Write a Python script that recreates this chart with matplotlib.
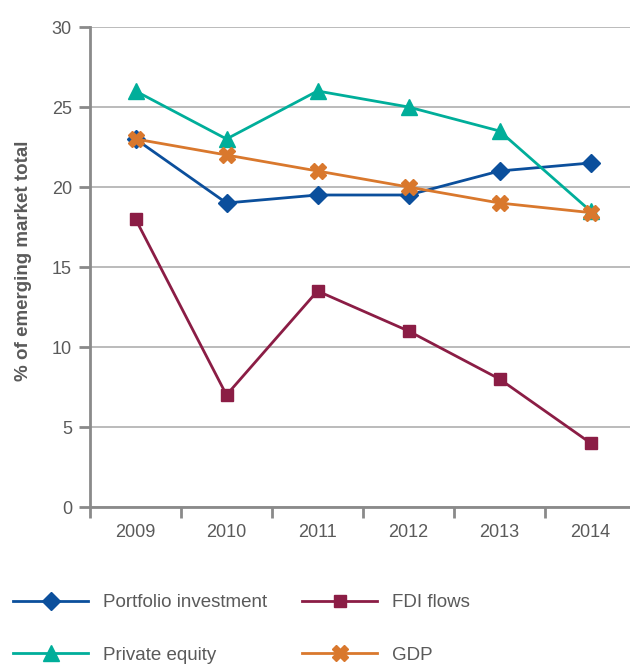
import matplotlib.pyplot as plt
from matplotlib.ticker import MultipleLocator

plt.rcParams['font.family'] = ['Liberation Sans', 'DejaVu Sans']

# Data
years = ['2009', '2010', '2011', '2012', '2013', '2014']
portfolio = [23.0, 19.0, 19.5, 19.5, 21.0, 21.5]
fdi = [18.0, 7.0, 13.5, 11.0, 8.0, 4.0]
private_equity = [26.0, 23.0, 26.0, 25.0, 23.5, 18.5]
gdp = [23.0, 22.0, 21.0, 20.0, 19.0, 18.4]

text_grey = '#5a5a5a'
axis_grey = '#8a8a8a'

fig = plt.figure(figsize=(6.3, 6.66), dpi=100)
ax = fig.add_axes([90 / 630, 1 - 507 / 666, 546 / 630, 480 / 666])

x = range(len(years))
l1, = ax.plot(x, portfolio, color='#0b4f9c', lw=2, marker='D', ms=9, label='Portfolio investment')
l2, = ax.plot(x, fdi, color='#8b1d45', lw=2, marker='s', ms=8, label='FDI flows')
l3, = ax.plot(x, private_equity, color='#00ae9a', lw=2, marker='^', ms=11, label='Private equity')
l4, = ax.plot(x, gdp, color='#d9782d', lw=2, marker='X', ms=11, label='GDP')

ax.set_ylim(0, 30)
ax.set_xlim(-0.5, len(years) - 0.5)
ax.yaxis.set_major_locator(MultipleLocator(5))
ax.grid(axis='y', color='#b5b5b5', lw=1.3)
ax.set_axisbelow(True)

# category boundaries as ticks, labels centred
ax.set_xticks([i - 0.5 for i in range(len(years) + 1)])
ax.set_xticklabels([])
ax.set_xticks(list(x), minor=True)
ax.set_xticklabels(years, minor=True)
ax.tick_params(axis='x', which='major', length=8, width=2, color=axis_grey)
ax.tick_params(axis='x', which='minor', length=0, pad=12, labelsize=13, labelcolor=text_grey)
ax.tick_params(axis='y', length=8, width=2, color=axis_grey, labelsize=13, labelcolor=text_grey, pad=5)

for side in ['top', 'right']:
    ax.spines[side].set_visible(False)
for side in ['left', 'bottom']:
    ax.spines[side].set_color(axis_grey)
    ax.spines[side].set_linewidth(2)

ax.set_ylabel('% of emerging market total', fontsize=13.5, fontweight='bold', color=text_grey)
ax.yaxis.set_label_coords((32 - 90) / 546, (507 - 261) / 480)

# two legend columns below the chart
fs = 13.5
for handles, xpos in [([l1, l3], 13 / 630), ([l2, l4], 302 / 630)]:
    fig.legend(handles=handles, loc='upper left', bbox_to_anchor=(xpos, 1 - 594 / 666),
               frameon=False, fontsize=fs, handlelength=4.0, handletextpad=0.8,
               labelspacing=1.9, borderpad=0, borderaxespad=0, labelcolor=text_grey)

fig.savefig('out.png', dpi=100)
